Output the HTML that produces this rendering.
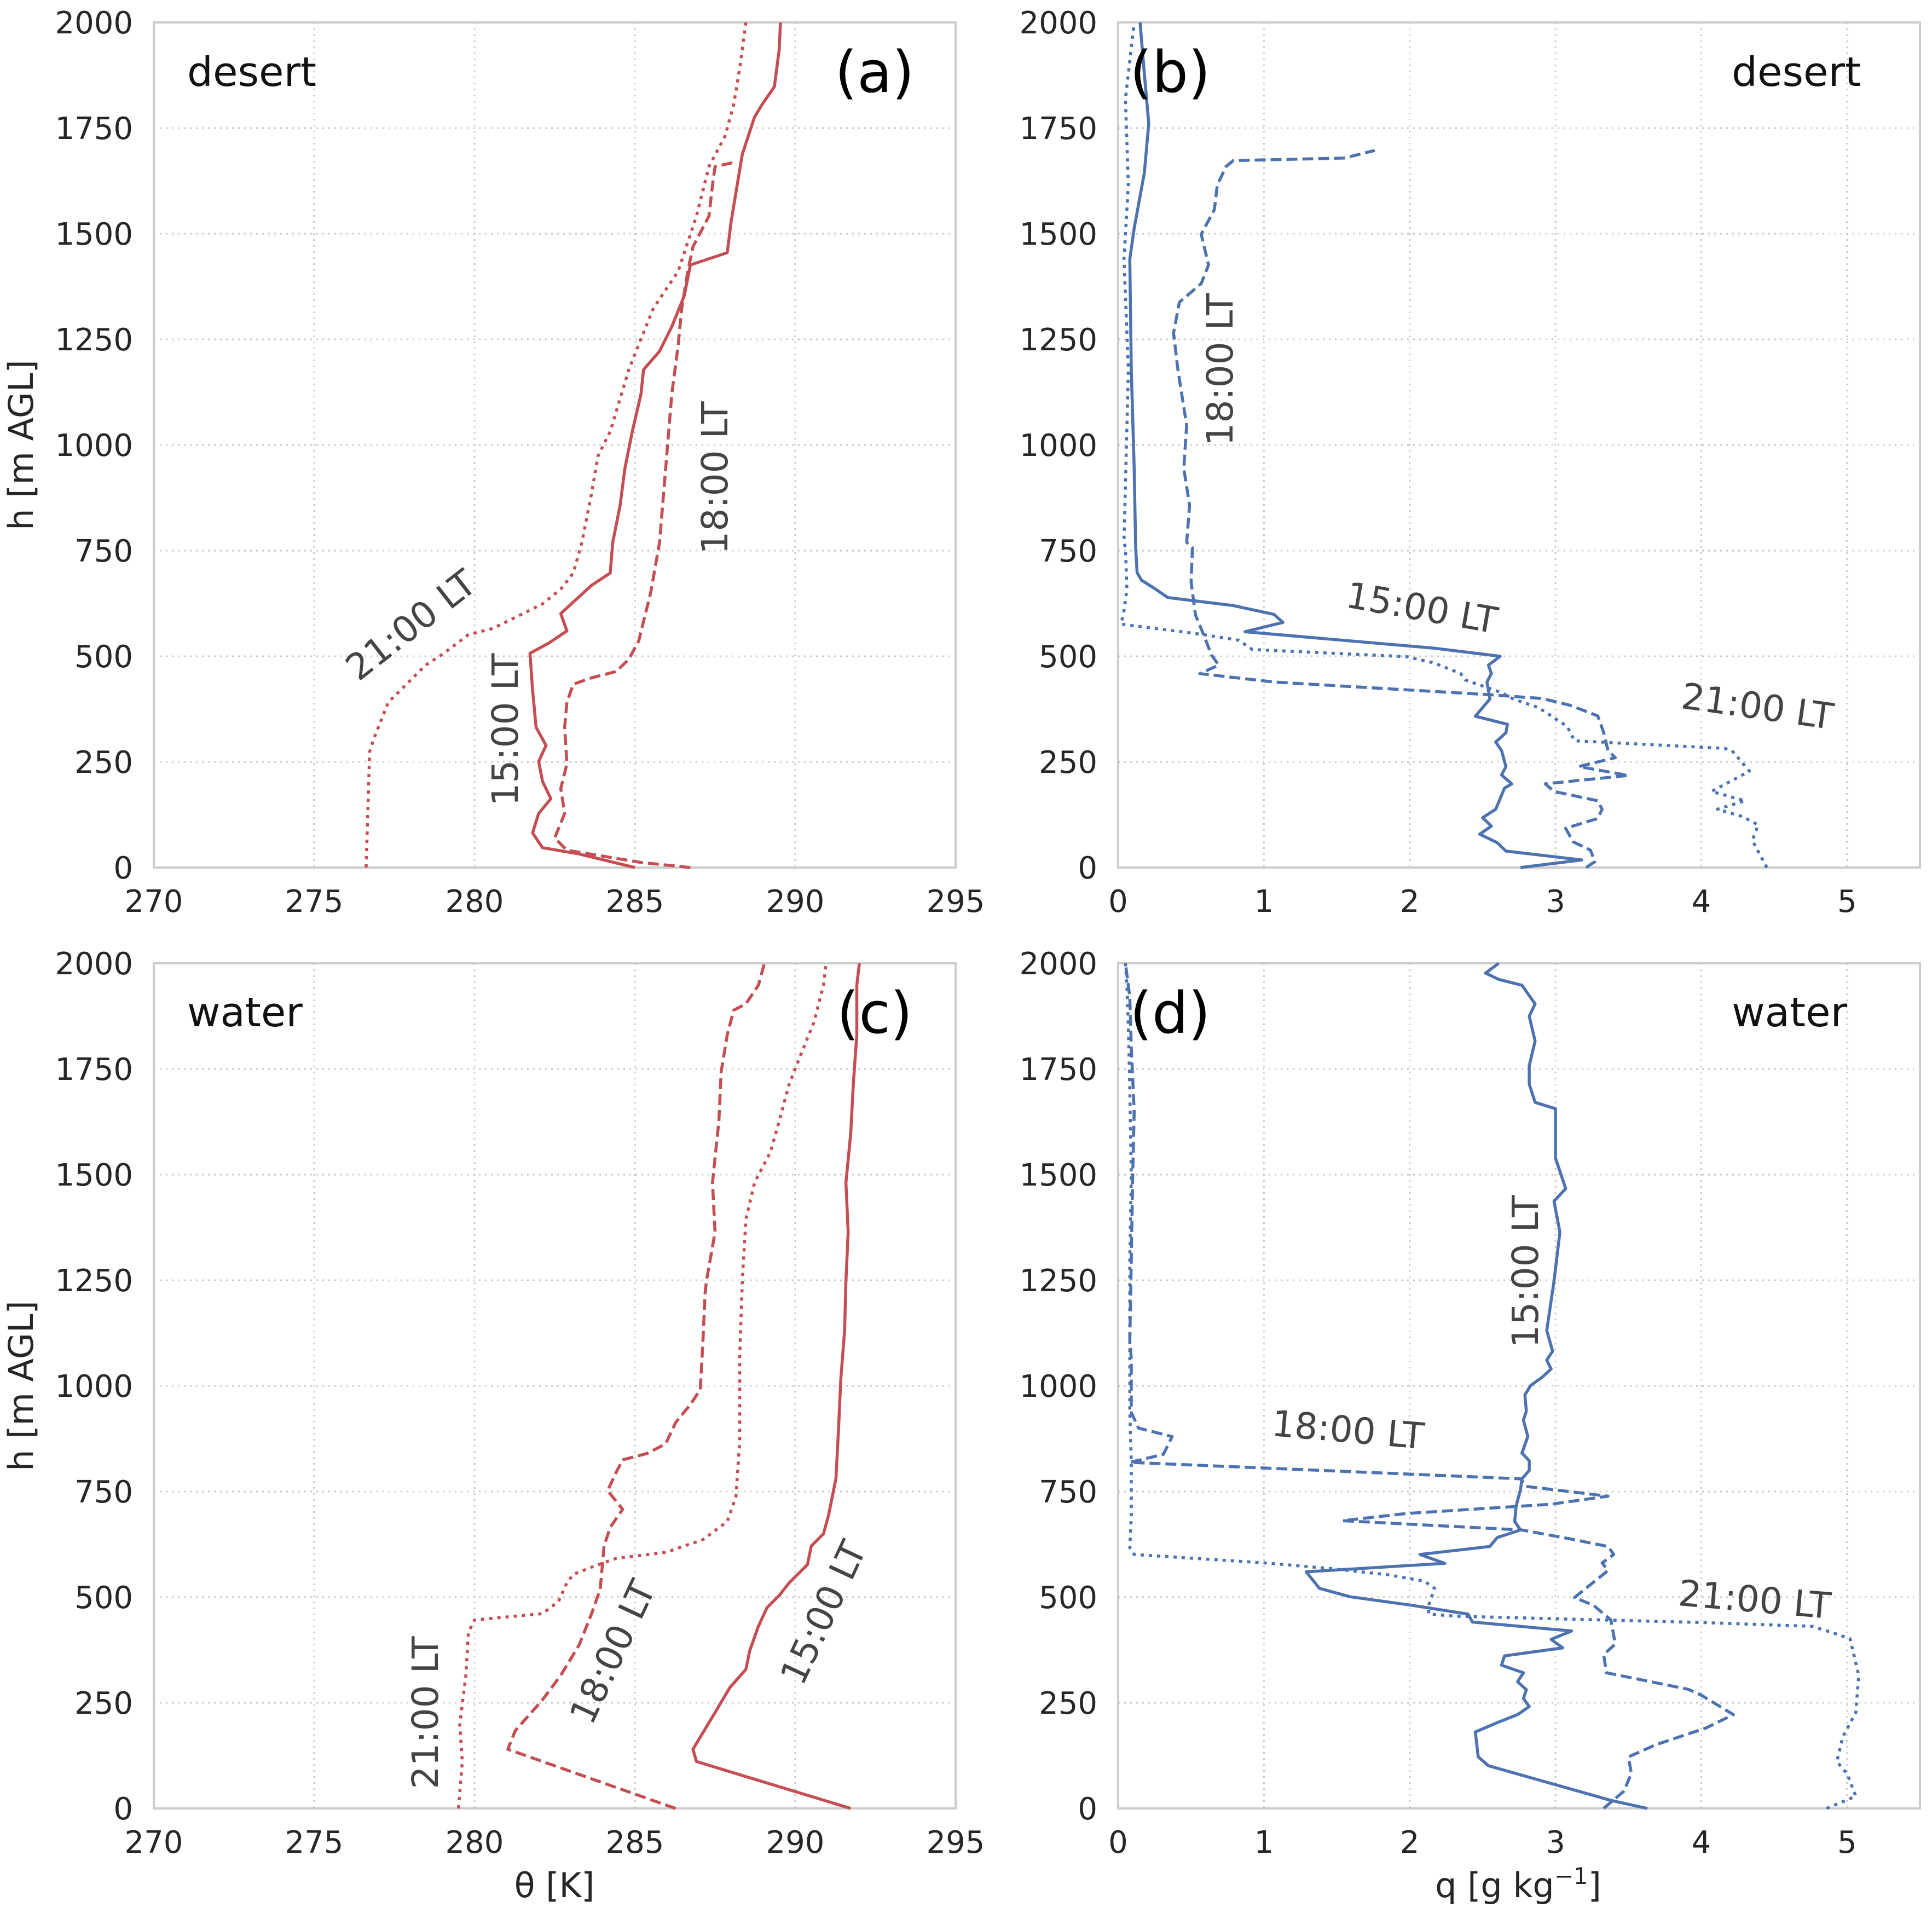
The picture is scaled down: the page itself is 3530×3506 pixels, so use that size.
<!DOCTYPE html>
<html><head><meta charset="utf-8"><style>
html,body{margin:0;padding:0;background:#fff;}
svg{display:block;font-family:"DejaVu Sans","Liberation Sans",sans-serif;}
</style></head><body>
<svg id="chart" width="3530" height="3506" viewBox="0 0 3530 3506" xmlns="http://www.w3.org/2000/svg"></svg>
<script>
// ---- data: panel (a) desert theta ----
const aT15 = [285.0,283.27,282.12,281.81,282.0,282.38,282.12,282.0,282.23,281.92,281.81,281.73,282.31,282.88,282.69,283.65,284.23,284.31,284.54,284.69,284.92,285.19,285.27,285.77,286.15,286.54,286.73,287.88,288.0,288.19,288.35,288.73,288.96,289.35,289.5,289.54];
const aH15 = [0,32,47,82,128,163,204,251,289,332,420,507,531,560,601,668,697,770,857,945,1032,1120,1178,1222,1280,1353,1426,1455,1528,1615,1688,1776,1805,1848,1936,2000];
const aT18 = [286.73,285.19,282.88,282.5,282.81,282.69,282.88,282.81,282.88,283.08,283.65,284.42,284.81,285.12,285.5,285.77,285.96,286.15,286.35,286.46,286.65,286.81,287.31,287.42,287.5,288.15];
const aH18 = [0,12,41,70,128,187,245,332,391,434,449,464,493,536,653,770,945,1120,1236,1324,1411,1469,1542,1615,1659,1670];
const aT21 = [276.62,276.73,276.85,277.31,277.88,278.46,279.04,279.81,280.58,281.35,282.12,282.69,283.08,283.35,283.65,283.85,284.23,284.81,285.19,285.58,286.35,286.92,287.31,287.81,288.08,288.27,288.46];
const aH21 = [0,274,303,391,434,478,507,551,566,595,624,659,697,770,886,974,1032,1178,1251,1324,1411,1542,1659,1731,1805,1892,2000];
// ---- panel (b) desert q ----
const bQ15 = [2.76,3.18,2.66,2.60,2.48,2.56,2.50,2.59,2.65,2.70,2.63,2.66,2.63,2.59,2.66,2.67,2.45,2.55,2.53,2.56,2.54,2.62,2.17,0.87,1.13,1.07,0.79,0.34,0.26,0.16,0.13,0.12,0.11,0.09,0.08,0.11,0.18,0.21,0.18,0.15];
const bH15 = [0,18,39,59,79,98,118,138,188,198,219,239,277,297,319,339,358,399,439,459,479,500,519,558,580,599,620,639,658,680,698,757,945,1178,1440,1513,1644,1761,1878,2000];
const bQ18 = [3.21,3.27,3.24,3.12,3.07,3.29,3.32,3.29,2.99,2.93,3.50,3.16,3.41,3.36,3.33,3.29,3.10,2.91,2.55,1.07,0.56,0.69,0.64,0.59,0.53,0.50,0.51,0.47,0.49,0.45,0.47,0.41,0.38,0.42,0.57,0.62,0.57,0.66,0.68,0.74,0.79,1.55,1.76];
const bH18 = [0,14,41,61,93,116,138,158,180,198,218,239,260,277,320,359,384,400,409,439,459,479,503,548,598,677,757,770,857,945,1046,1178,1265,1338,1382,1426,1499,1557,1615,1659,1673,1679,1697];
const bQ21 = [4.45,4.35,4.39,4.28,4.11,4.30,4.07,4.33,4.21,4.16,3.13,3.08,2.97,2.88,2.71,2.63,2.38,2.35,2.17,1.98,0.92,0.89,0.83,0.55,0.02,0.04,0.06,0.05,0.04,0.07,0.04,0.07,0.05,0.11];
const bH21 = [0,64,101,121,138,158,180,228,277,282,300,334,359,379,399,414,444,459,484,499,516,523,538,553,576,608,658,757,770,1178,1440,1615,1819,2000];
// ---- panel (c) water theta ----
const cT15 = [291.73,286.92,286.81,287.5,287.96,288.46,288.58,288.85,289.12,289.5,289.81,290.38,290.5,290.88,291.04,291.27,291.35,291.42,291.54,291.58,291.65,291.58,291.73,291.81,291.92,291.92,292.0];
const cH15 = [0,111,140,227,286,329,373,431,475,504,534,577,621,650,694,781,898,1015,1131,1248,1364,1481,1598,1714,1831,1948,2000];
const cT18 = [286.27,281.04,281.27,282.12,282.69,283.27,283.65,283.92,284.04,284.23,284.62,284.15,284.42,284.62,285.38,285.96,286.27,286.73,287.04,287.12,287.19,287.23,287.5,287.42,287.62,287.69,287.88,288.08,288.46,288.85,289.04];
const cH18 = [0,140,184,257,315,388,461,519,621,665,708,752,796,825,840,863,913,956,991,1102,1219,1248,1364,1481,1627,1743,1831,1889,1904,1948,2000];
const cT21 = [279.5,279.62,279.54,279.73,279.81,280.0,282.12,282.62,282.88,283.08,283.65,284.42,285.96,287.12,287.88,288.15,288.27,288.27,288.35,288.46,288.73,289.23,289.5,289.81,290.19,290.58,290.88,290.96];
const cH21 = [0,111,198,315,417,446,461,490,534,554,571,592,606,636,679,738,869,1073,1248,1394,1481,1554,1627,1714,1787,1860,1948,2000];
// ---- panel (d) water q ----
const dQ15 = [3.63,3.38,2.54,2.47,2.45,2.60,2.74,2.82,2.78,2.80,2.74,2.78,2.63,2.65,3.05,2.97,3.11,2.43,2.40,2.01,1.59,1.38,1.29,2.24,2.07,2.55,2.60,2.76,2.72,2.73,2.76,2.77,2.82,2.82,2.77,2.81,2.78,2.80,2.79,2.83,2.91,2.97,2.94,2.98,2.94,2.99,3.03,2.99,3.07,3.00,3.00,2.86,2.82,2.82,2.86,2.82,2.86,2.77,2.61,2.52,2.61];
const dH15 = [0,19,101,122,181,203,222,241,260,281,300,321,339,361,380,400,420,441,460,481,501,521,560,580,601,620,641,659,679,716,755,780,800,823,841,880,919,940,979,1001,1021,1040,1061,1082,1131,1248,1364,1437,1467,1539,1656,1671,1714,1758,1816,1875,1904,1948,1962,1977,2000];
const dQ18 = [3.33,3.47,3.52,3.50,3.69,4.03,4.22,4.00,3.91,3.35,3.33,3.41,3.38,3.26,3.13,3.27,3.36,3.32,3.40,3.36,3.10,2.77,1.54,1.98,2.97,3.36,2.80,2.76,0.08,0.31,0.37,0.14,0.09,0.09,0.09,0.08,0.09,0.10,0.11,0.09,0.08,0.05];
const dH18 = [0,41,83,122,151,190,222,268,282,321,364,389,446,481,499,538,563,581,601,620,638,659,681,698,720,739,762,780,819,838,880,900,937,1001,1065,1107,1300,1500,1650,1800,1920,2000];
const dQ21 = [4.86,5.06,5.0,4.93,4.97,5.06,5.08,5.04,5.02,4.89,4.76,4.0,2.31,2.13,2.13,2.17,2.10,1.85,1.48,1.01,0.11,0.08,0.09,0.09,0.09,0.08,0.08,0.08,0.09,0.08,0.07,0.06,0.05];
const dH21 = [0,29,82,111,169,227,315,373,402,417,431,440,455,460,481,521,538,553,567,581,601,617,695,752,819,937,1107,1300,1500,1700,1850,1950,2000];
// ---- tick labels ----
const hTicks = [0,250,500,750,1000,1250,1500,1750,2000];
const thetaTicks = [270,275,280,285,290,295];
const qTicks = [0,1,2,3,4,5];

const NS = "http://www.w3.org/2000/svg";
const svg = document.getElementById('chart');
const RED = "#c44e52", BLUE = "#4c72b0";
const DASH = "20,9", DOT = "6,9";
const TICKFS = 56;

function mk(tag, attrs, parent){
  const e = document.createElementNS(NS, tag);
  for (const k in attrs) e.setAttribute(k, attrs[k]);
  (parent||svg).appendChild(e);
  return e;
}
function panel(id, L, R, T, B, xmin, xmax, xticks){
  const g = mk('g', {});
  
  
  const sx = v => L + (v - xmin) / (xmax - xmin) * (R - L);
  const sy = v => B - v / 2000 * (B - T);
  xticks.forEach(t => {
    const x = sx(t);
    const ln = mk('line', {x1:x, x2:x, y1:T, y2:B, stroke:'#c8c8c8', 'stroke-width':3, 'stroke-dasharray':'3,8'}, g);
    
    
    const tx = mk('text', {x:x, y:B + 81, 'font-size':TICKFS, fill:'#262626', 'text-anchor':'middle'}, g);
    
    
    tx.textContent = t;
  });
  hTicks.forEach(t => {
    const y = sy(t);
    const ln = mk('line', {x1:L, x2:R, y1:y, y2:y, stroke:'#c8c8c8', 'stroke-width':3, 'stroke-dasharray':'3,8'}, g);
    
    
    const tx = mk('text', {x:L - 38, y:y + 20, 'font-size':TICKFS, fill:'#262626', 'text-anchor':'end'}, g);
    
    
    tx.textContent = t;
  });
  const fr = mk('rect', {x:L, y:T, width:R-L, height:B-T, fill:'none', stroke:'#cccccc', 'stroke-width':4}, g);
  
  
  return {g, sx, sy, L, R, T, B};
}
function series(p, xs, hs, color, dash, name){
  let d = '';
  for (let i = 0; i < xs.length; i++) d += (i ? 'L' : 'M') + p.sx(xs[i]).toFixed(1) + ',' + p.sy(hs[i]).toFixed(1);
  const a = {d:d, fill:'none', stroke:color, 'stroke-width':5.5, 'stroke-linejoin':'round'};
  if (dash) a['stroke-dasharray'] = dash;
  const e = mk('path', a, p.g);
  
  
}
function label(p, text, x, y, rot, size, color, anchor, name){
  const t = mk('text', {x:x, y:y, 'font-size':size, fill:color, 'text-anchor':anchor||'middle', transform:'rotate(' + rot + ' ' + x + ' ' + y + ')'}, p ? p.g : svg);
  
  
  t.textContent = text;
}

const pa = panel('a', 281, 1746, 41, 1585, 270, 295, thetaTicks);
const pb = panel('b', 2043, 3508, 41, 1585, 0, 5.5, qTicks);
const pc = panel('c', 281, 1746, 1760, 3304, 270, 295, thetaTicks);
const pd = panel('d', 2043, 3508, 1760, 3304, 0, 5.5, qTicks);

series(pa, aT15, aH15, RED, null, 'theta-desert-15lt');
series(pa, aT18, aH18, RED, DASH, 'theta-desert-18lt');
series(pa, aT21, aH21, RED, DOT, 'theta-desert-21lt');
series(pb, bQ15, bH15, BLUE, null, 'q-desert-15lt');
series(pb, bQ18, bH18, BLUE, DASH, 'q-desert-18lt');
series(pb, bQ21, bH21, BLUE, DOT, 'q-desert-21lt');
series(pc, cT15, cH15, RED, null, 'theta-water-15lt');
series(pc, cT18, cH18, RED, DASH, 'theta-water-18lt');
series(pc, cT21, cH21, RED, DOT, 'theta-water-21lt');
series(pd, dQ15, dH15, BLUE, null, 'q-water-15lt');
series(pd, dQ18, dH18, BLUE, DASH, 'q-water-18lt');
series(pd, dQ21, dH21, BLUE, DOT, 'q-water-21lt');

const LC = '#444444', LS = 66;
label(pa, '21:00 LT', 765, 1160, -38, LS, LC, 'middle', 'label-a-21lt');
label(pa, '15:00 LT', 946, 1333, -90, LS, LC, 'middle', 'label-a-15lt');
label(pa, '18:00 LT', 1329, 873, -90, LS, LC, 'middle', 'label-a-18lt');
label(pb, '18:00 LT', 2252, 675, -90, LS, LC, 'middle', 'label-b-18lt');
label(pb, '15:00 LT', 2594, 1133, 10, LS, LC, 'middle', 'label-b-15lt');
label(pb, '21:00 LT', 3208, 1313, 8, LS, LC, 'middle', 'label-b-21lt');
label(pc, '21:00 LT', 800, 3129, -90, LS, LC, 'middle', 'label-c-21lt');
label(pc, '18:00 LT', 1140, 3028, -65, LS, LC, 'middle', 'label-c-18lt');
label(pc, '15:00 LT', 1525, 2956, -65, LS, LC, 'middle', 'label-c-15lt');
label(pd, '15:00 LT', 2810, 2323, -90, LS, LC, 'middle', 'label-d-15lt');
label(pd, '18:00 LT', 2461, 2635, 5, LS, LC, 'middle', 'label-d-18lt');
label(pd, '21:00 LT', 3204, 2945, 5, LS, LC, 'middle', 'label-d-21lt');

label(pa, 'desert', 342, 157, 0, 74, '#111', 'start', 'site-label-a');
label(pb, 'desert', 3400, 157, 0, 74, '#111', 'end', 'site-label-b');
label(pc, 'water', 342, 1875, 0, 74, '#111', 'start', 'site-label-c');
label(pd, 'water', 3375, 1875, 0, 74, '#111', 'end', 'site-label-d');
label(pa, '(a)', 1598, 168, 0, 104, '#000', 'middle', 'panel-letter-a');
label(pb, '(b)', 2138, 168, 0, 104, '#000', 'middle', 'panel-letter-b');
label(pc, '(c)', 1598, 1887, 0, 104, '#000', 'middle', 'panel-letter-c');
label(pd, '(d)', 2138, 1887, 0, 104, '#000', 'middle', 'panel-letter-d');

label(null, 'h [m AGL]', 60, 813, -90, 62, '#262626', 'middle', 'y-axis-title-top');
label(null, 'h [m AGL]', 60, 2532, -90, 62, '#262626', 'middle', 'y-axis-title-bottom');
label(null, 'θ [K]', 1013, 3466, 0, 62, '#262626', 'middle', 'x-axis-title-theta');
const qt = mk('text', {x:2774, y:3466, 'font-size':62, fill:'#262626', 'text-anchor':'middle'});


qt.innerHTML = 'q [g kg<tspan dy="-24" font-size="42">−1</tspan><tspan dy="24">]</tspan>';
</script>
</body></html>
